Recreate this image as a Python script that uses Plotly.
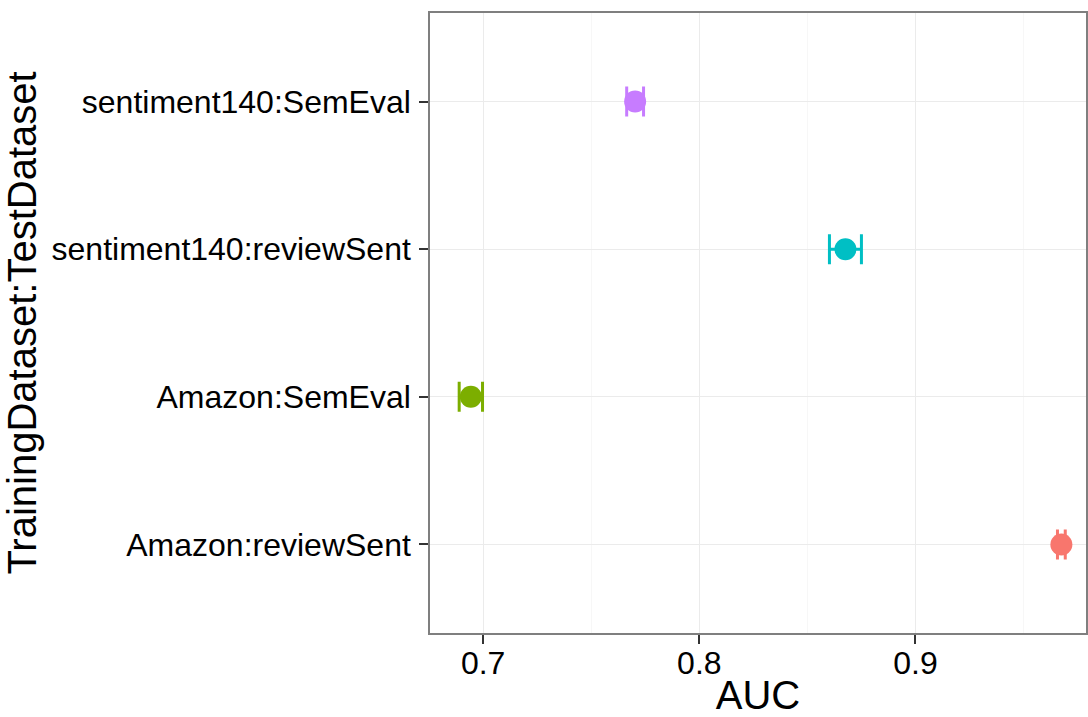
import plotly.graph_objects as go

categories = ["Amazon:reviewSent", "Amazon:SemEval", "sentiment140:reviewSent", "sentiment140:SemEval"]
auc = [0.9675, 0.6943, 0.8676, 0.7703]
auc_err = [0.0018, 0.0054, 0.0074, 0.0039]
colors = ["#F8766D", "#7CAE00", "#00BFC4", "#C77CFF"]

fig = go.Figure()
for cat, v, e, c in zip(categories, auc, auc_err, colors):
    fig.add_trace(go.Scatter(
        x=[v], y=[cat], mode="markers",
        marker=dict(size=22, color=c, line=dict(width=0)),
        error_x=dict(type="data", array=[e], color=c, thickness=3, width=15),
        showlegend=False, cliponaxis=False,
    ))

font = "Liberation Sans, Arial, sans-serif"
fig.update_layout(
    width=1088, height=717,
    margin=dict(l=430, r=0, t=13, b=84),
    plot_bgcolor="white", paper_bgcolor="white",
    font=dict(family=font, color="black"),
    xaxis=dict(
        range=[0.6754, 0.9789], tickvals=[0.7, 0.8, 0.9], ticktext=["0.7", "0.8", "0.9"],
        showgrid=True, gridcolor="#EBEBEB", gridwidth=1.2,
        minor=dict(tickvals=[0.65, 0.75, 0.85, 0.95], showgrid=True, gridcolor="#F7F7F7", gridwidth=1, ticks=""),
        showline=True, linecolor="#7F7F7F", linewidth=1.5, mirror=True,
        ticks="outside", ticklen=9, tickwidth=2, tickcolor="#333333",
        tickfont=dict(size=32, color="black"), ticklabelstandoff=-8,
        title=dict(text="AUC", font=dict(size=40, color="black"), standoff=0),
        zeroline=False,
    ),
    yaxis=dict(
        categoryorder="array", categoryarray=categories, range=[-0.6, 3.6],
        showgrid=True, gridcolor="#EBEBEB", gridwidth=1.2,
        showline=True, linecolor="#7F7F7F", linewidth=1.5, mirror=True,
        ticks="outside", ticklen=9, tickwidth=2, tickcolor="#333333",
        tickfont=dict(size=32, color="black"), ticklabelstandoff=2,
        title=dict(text="TrainingDataset:TestDataset", font=dict(size=40, color="black"), standoff=6),
        zeroline=False,
    ),
)

fig.write_html("out.html")
